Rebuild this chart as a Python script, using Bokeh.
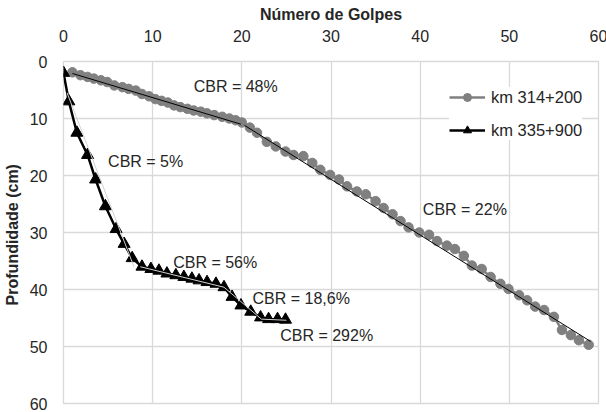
from bokeh.plotting import figure
from bokeh.models import Range1d, FixedTicker, Legend, LegendItem
from bokeh.core.properties import value
from bokeh.embed import file_html
from bokeh.resources import INLINE

# DCP test, km 314+200: cumulative blows vs. depth (cm)
golpes_314 = [1.0, 1.9, 2.7, 3.4, 4.2, 4.9, 5.7, 6.6, 7.3, 8.1, 8.8, 9.6, 10.3,
              11.0, 11.7, 12.4, 13.1, 13.9, 14.6, 15.4, 16.1, 16.9, 17.8, 18.6,
              19.3, 20.0,
              20.9, 21.7, 22.8, 23.8, 24.9, 25.8, 26.9, 27.9, 28.8, 29.9, 30.9,
              31.8, 32.9, 33.9, 35.0, 35.9, 36.9, 37.8, 38.7, 39.9, 41.0, 41.9,
              43.0, 43.9, 44.9, 45.8, 46.9, 47.9, 49.0, 49.9, 51.1, 52.0, 52.9,
              53.9, 55.0, 55.9, 56.9, 57.8, 58.9]
prof_314 = [1.9, 2.4, 2.7, 3.0, 3.3, 3.6, 4.2, 4.5, 4.8, 5.1, 5.7, 6.1, 6.6,
            6.9, 7.2, 7.7, 8.0, 8.3, 8.6, 8.8, 9.1, 9.4, 9.7, 10.0,
            10.3, 10.7,
            11.6, 12.5, 14.1, 14.9, 15.8, 16.4, 16.6, 17.8, 19.0, 19.9, 20.7,
            21.9, 22.8, 23.3, 24.5, 25.7, 26.8, 28.0, 29.1, 30.0, 30.4, 31.5,
            32.3, 32.9, 34.1, 35.8, 36.4, 37.8, 39.0, 39.9, 41.0, 41.9, 43.0,
            43.6, 44.8, 47.1, 48.0, 48.9, 49.7]

# DCP test, km 335+900
golpes_335 = [0.0, 0.6, 1.5, 2.7, 3.6, 4.7, 5.9, 6.8, 7.7, 8.8, 9.8, 10.7,
              11.6, 12.6, 13.5, 14.4, 15.2, 16.1, 17.1, 18.0, 18.9, 19.9,
              21.0, 22.1, 23.0, 24.0, 24.9]
prof_335 = [2.0, 7.0, 12.5, 16.4, 20.7, 25.4, 29.4, 32.0, 34.5, 36.0, 36.4,
            36.7, 37.2, 37.5, 37.8, 38.1, 38.4, 38.7, 39.0, 39.6, 41.3, 42.8,
            43.9, 44.9, 45.2, 45.2, 45.3]

# Linear fits of each layer (start/end of every segment)
trend_314_x = [[1.0, 19.9], [20.3, 59.1]]
trend_314_y = [[2.1, 11.0], [11.2, 49.1]]
trend_335_x = [[0.4, 7.9], [8.6, 18.0], [18.0, 22.2], [22.2, 25.0]]
trend_335_y = [[5.5, 36.0], [36.0, 39.6], [39.6, 45.2], [45.2, 45.4]]

cbr_labels = ["CBR = 48%", "CBR = 5%", "CBR = 56%",
              "CBR = 18,6%", "CBR = 292%", "CBR = 22%"]
axis_ticks = [0, 10, 20, 30, 40, 50, 60]

FONT = "Liberation Sans"
TXT = "#262626"
GRID = "#d9d9d9"

p = figure(frame_width=535, frame_height=342,
           min_border_left=60, min_border_right=11,
           min_border_top=61, min_border_bottom=9,
           x_range=Range1d(0, 60), y_range=Range1d(60, 0),
           x_axis_location="above",
           output_backend="svg", toolbar_location=None, tools="")
p.background_fill_color = "white"
p.border_fill_color = "white"
p.outline_line_color = GRID
p.outline_line_width = 1.3

for ax in (p.xaxis[0], p.yaxis[0]):
    ax.ticker = FixedTicker(ticks=axis_ticks)
    ax.axis_line_color = None
    ax.major_tick_line_color = None
    ax.minor_tick_line_color = None
    ax.major_label_text_font = FONT
    ax.major_label_text_font_size = "16px"
    ax.major_label_text_color = TXT
    ax.axis_label_text_font = FONT
    ax.axis_label_text_font_size = "16px"
    ax.axis_label_text_font_style = "bold"
    ax.axis_label_text_color = TXT

p.xaxis.axis_label = "Número de Golpes"
p.yaxis.axis_label = "Profundidade  (cm)"
p.xaxis.major_label_standoff = 14
p.yaxis.major_label_standoff = 10
p.xaxis.axis_label_standoff = 4
p.yaxis.axis_label_standoff = 6

p.xgrid.ticker = FixedTicker(ticks=axis_ticks)
p.ygrid.ticker = FixedTicker(ticks=axis_ticks)
p.grid.grid_line_color = GRID
p.grid.grid_line_width = 1.3

# km 314+200 series
l1 = p.line(golpes_314, prof_314, line_color="#808080", line_width=2.5)
s1 = p.scatter(golpes_314, prof_314, marker="circle", size=9.5,
               fill_color="#808080", line_color="#808080")
p.multi_line(trend_314_x, trend_314_y, line_color="black", line_width=1)

# km 335+900 series
l2 = p.line(golpes_335, prof_335, line_color="black", line_width=2.5)
s2 = p.scatter(golpes_335, prof_335, marker="triangle", size=12,
               fill_color="black", line_color="black")
p.multi_line(trend_335_x, trend_335_y, line_color="#d0d0d0", line_width=1)

# CBR annotations for each layer
label_x = [14.6, 5.0, 12.3, 21.2, 24.3, 40.3]
label_y = [4.4, 17.6, 35.3, 41.6, 48.0, 25.9]
p.text(x=label_x, y=label_y, text=cbr_labels,
       text_font=value(FONT), text_font_size="16px", text_color=TXT,
       text_align="left", text_baseline="middle")

legend = Legend(items=[LegendItem(label="km 314+200", renderers=[l1, s1]),
                       LegendItem(label="km 335+900", renderers=[l2, s2])],
                location=(386, 263))
legend.background_fill_color = "white"
legend.background_fill_alpha = 1.0
legend.border_line_color = None
legend.label_text_font = FONT
legend.label_text_font_size = "16.5px"
legend.label_text_color = TXT
legend.glyph_width = 36
legend.glyph_height = 20
legend.label_height = 20
legend.spacing = 13
legend.padding = 7
legend.margin = 0
legend.label_standoff = 6
p.add_layout(legend)

open("out.html", "w").write(file_html(p, INLINE))
